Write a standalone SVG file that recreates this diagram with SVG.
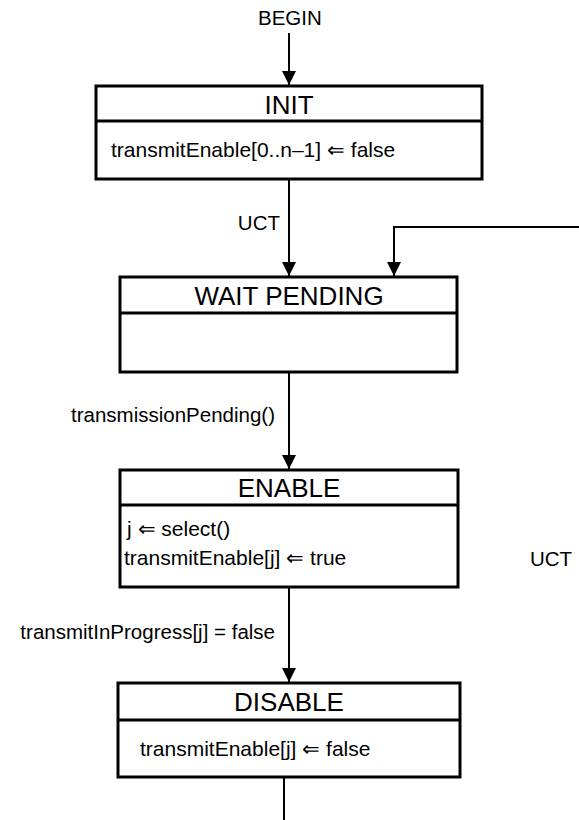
<svg xmlns="http://www.w3.org/2000/svg" width="579" height="820" viewBox="0 0 579 820">
<style>
.box{fill:#fff;stroke:#000;stroke-width:3}
.div{stroke:#000;stroke-width:3}
.ln{fill:none;stroke:#000;stroke-width:2}
.t{font-family:"Liberation Sans",Arial,sans-serif;fill:#000}
.title{font-size:26px;text-anchor:middle}
.body{font-size:21px}
.lbl{font-size:20.5px}
</style>
<defs>
<marker id="ah" markerWidth="14" markerHeight="14" refX="14" refY="7" orient="auto" markerUnits="userSpaceOnUse">
<path d="M0,0 L14,7 L0,14 Z" fill="#000"/>
</marker>
</defs>
<g id="connectors">
<path class="ln" d="M289,33 V85" marker-end="url(#ah)"/>
<path class="ln" d="M289,180 V276" marker-end="url(#ah)"/>
<path class="ln" d="M579,227 H394 V276" marker-end="url(#ah)"/>
<path class="ln" d="M289,373 V469" marker-end="url(#ah)"/>
<path class="ln" d="M289,588 V682" marker-end="url(#ah)"/>
<path class="ln" d="M284,778 V820"/>
<text class="t lbl" x="258" y="25">BEGIN</text>
<text class="t lbl" x="280" y="230" text-anchor="end">UCT</text>
<text class="t lbl" x="275" y="422" text-anchor="end">transmissionPending()</text>
<text class="t lbl" x="530" y="566">UCT</text>
<text class="t lbl" x="275" y="639" text-anchor="end">transmitInProgress[j] = false</text>
</g>
<g id="INIT">
<rect class="box" x="96" y="86" width="386" height="93"/>
<line class="div" x1="96" y1="121" x2="482" y2="121"/>
<text class="t title" x="289" y="114">INIT</text>
<text class="t body" x="111" y="157">transmitEnable[0..n–1] ⇐ false</text>
</g>
<g id="WAIT_PENDING">
<rect class="box" x="120" y="277" width="337" height="95"/>
<line class="div" x1="120" y1="313" x2="457" y2="313"/>
<text class="t title" x="289" y="305">WAIT PENDING</text>
</g>
<g id="ENABLE">
<rect class="box" x="120" y="470" width="338" height="117"/>
<line class="div" x1="120" y1="505" x2="458" y2="505"/>
<text class="t title" x="289" y="497">ENABLE</text>
<text class="t body" x="127" y="536">j ⇐ select()</text>
<text class="t body" x="124" y="565">transmitEnable[j] ⇐ true</text>
</g>
<g id="DISABLE">
<rect class="box" x="118" y="683" width="342" height="94"/>
<line class="div" x1="118" y1="720" x2="460" y2="720"/>
<text class="t title" x="289" y="711">DISABLE</text>
<text class="t body" x="140" y="756">transmitEnable[j] ⇐ false</text>
</g>
</svg>
